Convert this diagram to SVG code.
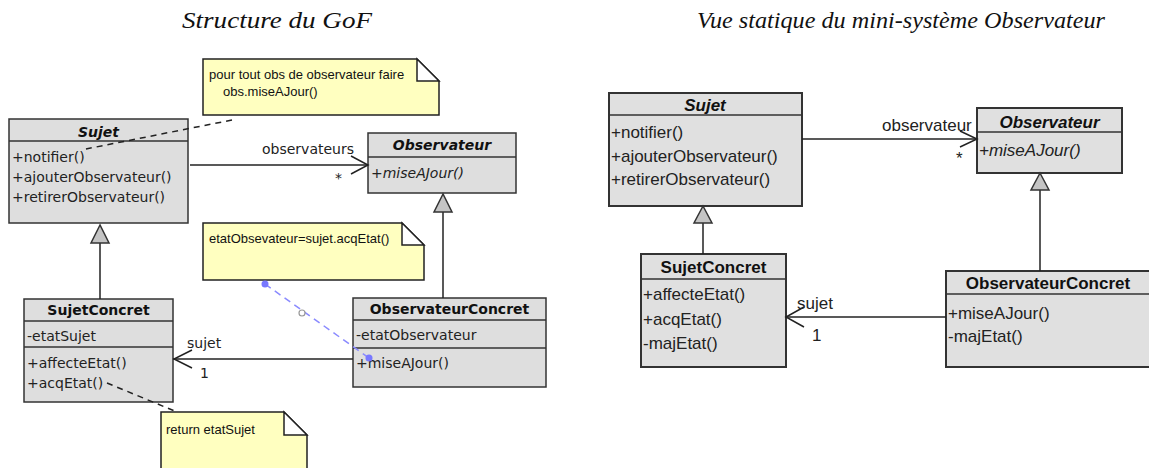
<svg xmlns="http://www.w3.org/2000/svg" width="1149" height="468" viewBox="0 0 1149 468">
<style>
.title{font-family:"Liberation Serif","DejaVu Serif",serif;font-style:italic;font-size:24px;fill:#111}
.box{fill:#dedede;stroke:#333;stroke-width:1.5}
.rbox{fill:#e0e0e0;stroke:#333;stroke-width:2}
.sep{stroke:#333;stroke-width:1.5}
.t{font-family:"DejaVu Sans",sans-serif;font-size:14px;fill:#222}
.tb{font-family:"DejaVu Sans",sans-serif;font-size:14px;font-weight:bold;fill:#111}
.tbi{font-family:"DejaVu Sans",sans-serif;font-size:14px;font-weight:bold;font-style:italic;fill:#111}
.ti{font-family:"DejaVu Sans",sans-serif;font-size:14px;font-style:italic;fill:#222}
.r{font-family:"Liberation Sans",Arial,sans-serif;font-size:17px;fill:#222}
.rb{font-family:"Liberation Sans",Arial,sans-serif;font-size:17px;font-weight:bold;fill:#111}
.rbi{font-family:"Liberation Sans",Arial,sans-serif;font-size:17px;font-weight:bold;font-style:italic;fill:#111}
.ri{font-family:"Liberation Sans",Arial,sans-serif;font-size:17px;font-style:italic;fill:#222}
.note{fill:#ffffc0;stroke:#222;stroke-width:1.5}
.fold{fill:#fff;stroke:#222;stroke-width:1.5}
.nt{font-family:"Liberation Sans",Arial,sans-serif;font-size:13px;fill:#111}
.line{fill:none;stroke:#222;stroke-width:1.5}
.dash{fill:none;stroke:#222;stroke-width:1.5;stroke-dasharray:6,5}
.blue{fill:none;stroke:#8a8aff;stroke-width:1.5;stroke-dasharray:7,5}
.gen{fill:#c4c4c4;stroke:#333;stroke-width:1.5}
</style>

<text class="title" x="277" y="28" text-anchor="middle" textLength="190" lengthAdjust="spacingAndGlyphs">Structure du GoF</text>
<text class="title" x="901" y="28" text-anchor="middle" textLength="408" lengthAdjust="spacingAndGlyphs">Vue statique du mini-système Observateur</text>

<!-- Left diagram -->
<g id="note-notifier">
  <path class="note" d="M203,59 H417 L439,81 V115 H203 Z"/>
  <path class="fold" d="M417,59 V81 H439 Z"/>
  <text class="nt" x="209" y="79">pour tout obs de observateur faire</text>
  <text class="nt" x="223" y="96">obs.miseAJour()</text>
</g>

<g id="sujet-gof">
  <rect class="box" x="9" y="119" width="179" height="104"/>
  <line class="sep" x1="9" y1="141" x2="188" y2="141"/>
  <text class="tbi" x="98.5" y="137" text-anchor="middle">Sujet</text>
  <text class="t" x="12" y="162">+notifier()</text>
  <text class="t" x="12" y="182">+ajouterObservateur()</text>
  <text class="t" x="12" y="202">+retirerObservateur()</text>
</g>

<g id="observateur-gof">
  <rect class="box" x="368" y="133" width="148" height="60"/>
  <line class="sep" x1="368" y1="157" x2="516" y2="157"/>
  <text class="tbi" x="442" y="150" text-anchor="middle">Observateur</text>
  <text class="ti" x="371" y="178">+miseAJour()</text>
</g>

<g id="note-etat">
  <path class="note" d="M203,223 H402 L424,245 V280 H203 Z"/>
  <path class="fold" d="M402,223 V245 H424 Z"/>
  <text class="nt" x="209" y="243">etatObsevateur=sujet.acqEtat()</text>
</g>

<g id="sujetconcret-gof">
  <rect class="box" x="24" y="299" width="149" height="103"/>
  <line class="sep" x1="24" y1="321" x2="173" y2="321"/>
  <line class="sep" x1="24" y1="347" x2="173" y2="347"/>
  <text class="tb" x="98.5" y="315" text-anchor="middle">SujetConcret</text>
  <text class="t" x="27" y="341">-etatSujet</text>
  <text class="t" x="27" y="368">+affecteEtat()</text>
  <text class="t" x="27" y="388">+acqEtat()</text>
</g>

<g id="observateurconcret-gof">
  <rect class="box" x="353" y="298" width="193" height="89"/>
  <line class="sep" x1="353" y1="320" x2="546" y2="320"/>
  <line class="sep" x1="353" y1="348" x2="546" y2="348"/>
  <text class="tb" x="449.5" y="314" text-anchor="middle">ObservateurConcret</text>
  <text class="t" x="356" y="340">-etatObservateur</text>
  <text class="t" x="356" y="368">+miseAJour()</text>
</g>

<g id="note-return">
  <path class="note" d="M161,412 H284 L307,435 V472 H161 Z"/>
  <path class="fold" d="M284,412 V435 H307 Z"/>
  <text class="nt" x="166" y="434">return etatSujet</text>
</g>

<!-- Right diagram -->
<g id="sujet">
  <rect class="rbox" x="609" y="93" width="193" height="113"/>
  <line class="sep" x1="609" y1="115" x2="802" y2="115" stroke-width="2"/>
  <text class="rbi" x="705" y="111" text-anchor="middle">Sujet</text>
  <text class="r" x="611" y="138">+notifier()</text>
  <text class="r" x="611" y="162">+ajouterObservateur()</text>
  <text class="r" x="611" y="185">+retirerObservateur()</text>
</g>

<g id="observateur">
  <rect class="rbox" x="977" y="108" width="145" height="65"/>
  <line class="sep" x1="977" y1="132" x2="1122" y2="132" stroke-width="2"/>
  <text class="rbi" x="1049.5" y="128" text-anchor="middle">Observateur</text>
  <text class="ri" x="979" y="156">+miseAJour()</text>
</g>

<g id="sujetconcret">
  <rect class="rbox" x="641" y="254" width="145" height="113"/>
  <line class="sep" x1="641" y1="279" x2="786" y2="279" stroke-width="2"/>
  <text class="rb" x="713.5" y="273" text-anchor="middle">SujetConcret</text>
  <text class="r" x="643" y="300">+affecteEtat()</text>
  <text class="r" x="643" y="325">+acqEtat()</text>
  <text class="r" x="643" y="349">-majEtat()</text>
</g>

<g id="observateurconcret">
  <rect class="rbox" x="946" y="271" width="206" height="96"/>
  <line class="sep" x1="946" y1="294" x2="1152" y2="294" stroke-width="2"/>
  <text class="rb" x="1048" y="289" text-anchor="middle">ObservateurConcret</text>
  <text class="r" x="948" y="319">+miseAJour()</text>
  <text class="r" x="948" y="342">-majEtat()</text>
</g>

<g id="connectors">
  <!-- left -->
  <line class="dash" x1="232" y1="120" x2="86" y2="149"/>
  <line class="dash" x1="107" y1="383" x2="177" y2="412"/>
  <line class="line" x1="190" y1="165" x2="368" y2="165"/>
  <polyline class="line" points="351,156 368,165 351,174"/>
  <text class="t" x="262" y="154">observateurs</text>
  <text class="t" x="335" y="183">*</text>
  <line class="line" x1="443" y1="212" x2="443" y2="298"/>
  <polygon class="gen" points="443,194 434,212 452,212"/>
  <line class="line" x1="100" y1="243" x2="100" y2="299"/>
  <polygon class="gen" points="100,225 91,243 109,243"/>
  <line class="line" x1="353" y1="359" x2="173" y2="359"/>
  <polyline class="line" points="192,350 174,359 192,368"/>
  <text class="t" x="187" y="348">sujet</text>
  <text class="t" x="200" y="378">1</text>
  <line class="blue" x1="265" y1="284" x2="369" y2="358"/>
  <circle cx="265" cy="284" r="3.5" fill="#7878ff"/>
  <circle cx="369" cy="358" r="3.5" fill="#7878ff"/>
  <circle cx="302" cy="313" r="3" fill="#fff" stroke="#999" stroke-width="1.2"/>
  <!-- right -->
  <line class="line" x1="802" y1="139" x2="977" y2="139"/>
  <polyline class="line" points="960,131 977,139 960,147"/>
  <text class="r" x="882" y="131">observateur</text>
  <text class="r" x="956" y="164">*</text>
  <line class="line" x1="1040" y1="190" x2="1040" y2="271"/>
  <polygon class="gen" points="1040,173 1031,190 1049,190"/>
  <line class="line" x1="703" y1="223" x2="703" y2="254"/>
  <polygon class="gen" points="703,206 694,223 712,223"/>
  <line class="line" x1="946" y1="317" x2="786" y2="317"/>
  <polyline class="line" points="804,307 786,317 804,327"/>
  <text class="r" x="797" y="309">sujet</text>
  <text class="r" x="812" y="341">1</text>
</g>
</svg>
